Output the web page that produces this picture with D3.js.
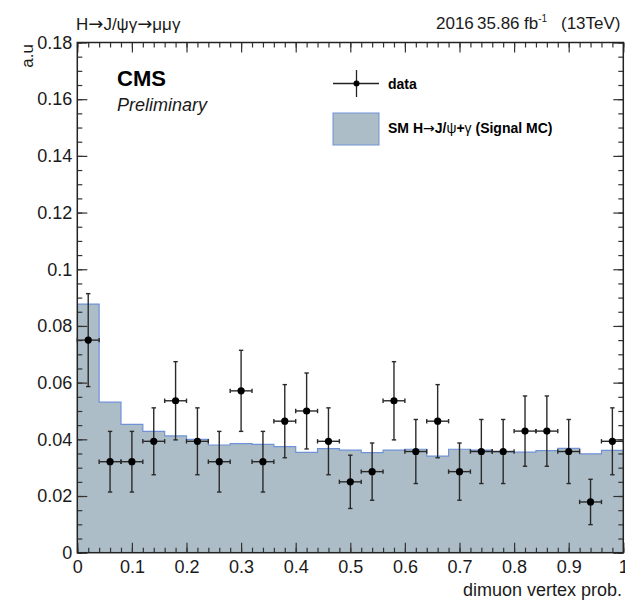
<!DOCTYPE html>
<html>
<head>
<meta charset="utf-8">
<script src="https://cdn.jsdelivr.net/npm/d3@7"></script>
<style>
  body { margin: 0; background: #fff; }
  svg { display: block; }
</style>
</head>
<body>
<div id="chart"></div>
<script>
// bin centres of the 25 bins (width 0.04)
const binCenters = [0.02, 0.06, 0.10, 0.14, 0.18, 0.22, 0.26, 0.30, 0.34, 0.38,
                    0.42, 0.46, 0.50, 0.54, 0.58, 0.62, 0.66, 0.70, 0.74, 0.78,
                    0.82, 0.86, 0.90, 0.94, 0.98];
// signal MC histogram (a.u.)
const mcValues = [0.0877, 0.0531, 0.0453, 0.0428, 0.0412, 0.0400, 0.0380, 0.0385, 0.0382, 0.0374,
                  0.0354, 0.0367, 0.0362, 0.0353, 0.0362, 0.0365, 0.0341, 0.0365, 0.0362, 0.0356,
                  0.0355, 0.0360, 0.0368, 0.0349, 0.0361];
// data points and their errors
const dataValues = [0.0750, 0.0321, 0.0321, 0.0393, 0.0536, 0.0393, 0.0321, 0.0571, 0.0321, 0.0464,
                    0.0500, 0.0393, 0.0250, 0.0286, 0.0536, 0.0357, 0.0464, 0.0286, 0.0357, 0.0357,
                    0.0429, 0.0429, 0.0357, 0.0179, 0.0393];
const dataErrors = [0.0164, 0.0107, 0.0107, 0.0118, 0.0138, 0.0118, 0.0107, 0.0143, 0.0107, 0.0129,
                    0.0134, 0.0118, 0.0094, 0.0101, 0.0138, 0.0113, 0.0129, 0.0101, 0.0113, 0.0113,
                    0.0124, 0.0124, 0.0113, 0.0080, 0.0118];
const binHalfWidth = 0.02;

const xTickValues = [0, 0.1, 0.2, 0.3, 0.4, 0.5, 0.6, 0.7, 0.8, 0.9, 1];
const yTickValues = [0, 0.02, 0.04, 0.06, 0.08, 0.1, 0.12, 0.14, 0.16, 0.18];

const W = 625, H = 603;
const padL = 77.3, padR = 623.3, padT = 42.5, padB = 552.7;
const FONT = "'Liberation Sans', Arial, Helvetica, sans-serif";
const ARROWFONT = "'DejaVu Sans', sans-serif";
const fillCol = "#adbdc7", lineCol = "#6f92d6";

const svg = d3.select("#chart").append("svg")
    .attr("width", W).attr("height", H)
    .attr("font-family", FONT);

const x = d3.scaleLinear().domain([0, 1]).range([padL, padR]);
const y = d3.scaleLinear().domain([0, 0.18]).range([padB, padT]);

// histogram as step area
const steps = mcValues.map((v, i) => ({x: binCenters[i] - binHalfWidth, v}));
steps.push({x: binCenters[binCenters.length - 1] + binHalfWidth, v: mcValues[mcValues.length - 1]});

svg.append("path")
    .datum(steps)
    .attr("fill", fillCol)
    .attr("d", d3.area().curve(d3.curveStepAfter).x(d => x(d.x)).y0(y(0)).y1(d => y(d.v)));

svg.append("path")
    .datum(steps)
    .attr("fill", "none")
    .attr("stroke", lineCol)
    .attr("stroke-width", 1.2)
    .attr("d", d3.line().curve(d3.curveStepAfter).x(d => x(d.x)).y(d => y(d.v)));

// axes
const fmt = d => String(+d.toFixed(3));
const minorX = d3.range(0, 1.0001, 0.02);
const minorY = d3.range(0, 0.18001, 0.005);

function styleAxis(g) {
  g.select(".domain").remove();
  g.attr("color", "#333").attr("font-family", FONT).attr("font-size", 18);
  g.selectAll("line").attr("stroke-width", 1.2);
  g.selectAll("text").attr("fill", "#1a1a1a");
}

svg.append("g").attr("transform", `translate(0,${padB})`)
    .call(d3.axisBottom(x).tickValues(xTickValues).tickSize(-10).tickPadding(8).tickFormat(fmt))
    .call(styleAxis);
svg.append("g").attr("transform", `translate(0,${padB})`)
    .call(d3.axisBottom(x).tickValues(minorX).tickSize(-5).tickFormat(""))
    .call(styleAxis);
svg.append("g").attr("transform", `translate(0,${padT})`)
    .call(d3.axisTop(x).tickValues(xTickValues).tickSize(-10).tickFormat(""))
    .call(styleAxis);
svg.append("g").attr("transform", `translate(0,${padT})`)
    .call(d3.axisTop(x).tickValues(minorX).tickSize(-5).tickFormat(""))
    .call(styleAxis);

svg.append("g").attr("transform", `translate(${padL},0)`)
    .call(d3.axisLeft(y).tickValues(yTickValues).tickSize(-10).tickPadding(5).tickFormat(fmt))
    .call(styleAxis);
svg.append("g").attr("transform", `translate(${padL},0)`)
    .call(d3.axisLeft(y).tickValues(minorY).tickSize(-5).tickFormat(""))
    .call(styleAxis);
svg.append("g").attr("transform", `translate(${padR},0)`)
    .call(d3.axisRight(y).tickValues(yTickValues).tickSize(-10).tickFormat(""))
    .call(styleAxis);
svg.append("g").attr("transform", `translate(${padR},0)`)
    .call(d3.axisRight(y).tickValues(minorY).tickSize(-5).tickFormat(""))
    .call(styleAxis);

// frame
svg.append("rect")
    .attr("x", padL).attr("y", padT)
    .attr("width", padR - padL).attr("height", padB - padT)
    .attr("fill", "none").attr("stroke", "#222").attr("stroke-width", 1.5);

// data points with error bars
const pts = binCenters.map((c, i) => ({c, v: dataValues[i], e: dataErrors[i]}));
const pg = svg.append("g").attr("stroke", "#2a2a2a").attr("stroke-width", 1.4);
const cap = 2.2;
pts.forEach(d => {
  const cx = x(d.c), cy = y(d.v);
  const y1 = y(d.v + d.e), y2 = y(d.v - d.e);
  const x1 = x(d.c - binHalfWidth), x2 = x(d.c + binHalfWidth);
  pg.append("line").attr("x1", cx).attr("x2", cx).attr("y1", y1).attr("y2", y2);
  pg.append("line").attr("x1", cx - cap).attr("x2", cx + cap).attr("y1", y1).attr("y2", y1);
  pg.append("line").attr("x1", cx - cap).attr("x2", cx + cap).attr("y1", y2).attr("y2", y2);
  pg.append("line").attr("x1", x1).attr("x2", x2).attr("y1", cy).attr("y2", cy);
  pg.append("line").attr("x1", x1).attr("x2", x1).attr("y1", cy - cap).attr("y2", cy + cap);
  pg.append("line").attr("x1", x2).attr("x2", x2).attr("y1", cy - cap).attr("y2", cy + cap);
});
svg.append("g").selectAll("circle")
  .data(pts)
  .join("circle")
    .attr("cx", d => x(d.c))
    .attr("cy", d => y(d.v))
    .attr("r", 3.6)
    .attr("fill", "#000");

// titles
const title = svg.append("text").attr("x", 76).attr("y", 30)
    .attr("font-size", 17).attr("fill", "#1a1a1a");
title.append("tspan").text("H");
title.append("tspan").attr("font-family", ARROWFONT).attr("font-size", 18).text("\u2192");
title.append("tspan").text("J/\u03c8\u03b3");
title.append("tspan").attr("font-family", ARROWFONT).attr("font-size", 18).text("\u2192");
title.append("tspan").text("\u03bc\u03bc\u03b3");

const lumi = svg.append("text").attr("y", 29)
    .attr("font-size", 17).attr("fill", "#1a1a1a");
lumi.append("tspan").attr("x", 436).text("2016");
lumi.append("tspan").attr("x", 477).text("35.86");
lumi.append("tspan").attr("x", 524).text("fb");
lumi.append("tspan").attr("font-size", 10).attr("dy", -7).text("-1");
lumi.append("tspan").attr("x", 561).attr("dy", 7).text("(13TeV)");

svg.append("text")
    .attr("transform", "translate(33,44) rotate(-90)")
    .attr("text-anchor", "end")
    .attr("font-size", 17).attr("fill", "#1a1a1a")
    .text("a.u");

svg.append("text").attr("x", 622).attr("y", 596)
    .attr("text-anchor", "end")
    .attr("font-size", 18).attr("fill", "#1a1a1a")
    .text("dimuon vertex prob.");

svg.append("text").attr("x", 117).attr("y", 86)
    .attr("font-size", 22).attr("font-weight", "bold").attr("fill", "#000")
    .text("CMS");
svg.append("text").attr("x", 117).attr("y", 111)
    .attr("font-size", 18).attr("font-style", "italic").attr("fill", "#1a1a1a")
    .text("Preliminary");

// legend
const lg = svg.append("g");
lg.append("line").attr("x1", 333).attr("x2", 379).attr("y1", 83.5).attr("y2", 83.5)
    .attr("stroke", "#222").attr("stroke-width", 1.3);
lg.append("line").attr("x1", 356.5).attr("x2", 356.5).attr("y1", 70).attr("y2", 97)
    .attr("stroke", "#222").attr("stroke-width", 1.3);
lg.append("circle").attr("cx", 356.5).attr("cy", 83.5).attr("r", 3).attr("fill", "#000");
lg.append("text").attr("x", 388).attr("y", 88.5)
    .attr("font-size", 14).attr("font-weight", "bold").attr("fill", "#000")
    .text("data");

lg.append("rect").attr("x", 333).attr("y", 113).attr("width", 46).attr("height", 32)
    .attr("fill", fillCol).attr("stroke", lineCol).attr("stroke-width", 1);
const lt = lg.append("text").attr("x", 388).attr("y", 133)
    .attr("font-size", 14).attr("font-weight", "bold").attr("fill", "#000");
lt.append("tspan").text("SM H");
lt.append("tspan").attr("font-weight", "normal").attr("font-family", ARROWFONT).text("\u2192");
lt.append("tspan").text("J/");
lt.append("tspan").attr("font-weight", "normal").text("\u03c8");
lt.append("tspan").text("+");
lt.append("tspan").attr("font-weight", "normal").text("\u03b3");
lt.append("tspan").text(" (Signal MC)");
</script>
</body>
</html>
